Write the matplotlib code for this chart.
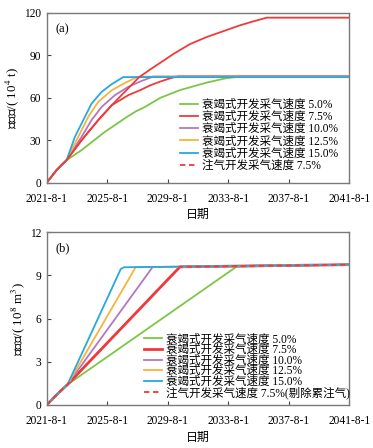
import matplotlib
matplotlib.use("Agg")
import matplotlib.pyplot as plt

plt.rcParams['font.family'] = ['Liberation Serif', 'Noto Sans CJK SC']
plt.rcParams['mathtext.fontset'] = 'stix'

# x in years since 2021-8-1
xticks = [0, 4, 8, 12, 16, 20]
xticklabels = ["2021-8-1", "2025-8-1", "2029-8-1", "2033-8-1", "2037-8-1", "2041-8-1"]

labels_a = ["衰竭式开发采气速度 5.0%", "衰竭式开发采气速度 7.5%", "衰竭式开发采气速度 10.0%",
            "衰竭式开发采气速度 12.5%", "衰竭式开发采气速度 15.0%", "注气开发采气速度 7.5%"]
labels_b = labels_a[:5] + ["注气开发采气速度 7.5%(剔除累注气)"]
colors = ["#7cc644", "#f03a3a", "#b277c4", "#f7b43a", "#25a9e0", "#f03a3a"]

# Panel (a): cumulative oil (10^4 t)
a_green_t = [0, 0.66, 1.32, 2.31, 3.85, 5.3, 5.9, 6.5, 7.5, 8.81, 10.57, 11.9, 12.8, 20]
a_green_v = [0, 9.0, 16.0, 23.1, 36.0, 46.5, 50.5, 53.6, 60.0, 65.5, 70.8, 74.0, 75.0, 75.0]
a_red_t = [0, 0.66, 1.32, 2.31, 3.41, 4.3, 5.39, 6.17, 6.83, 7.5, 8.15, 8.7, 20]
a_red_v = [0, 9.0, 16.0, 30.1, 44.3, 54.8, 61.9, 65.4, 68.8, 71.5, 73.8, 75.3, 75.3]
a_purple_t = [0, 0.66, 1.32, 2.31, 2.97, 3.63, 4.51, 5.39, 6.28, 7.05, 20]
a_purple_v = [0, 9.0, 16.0, 32.5, 44.3, 53.6, 61.9, 67.8, 72.0, 75.1, 75.1]
a_orange_t = [0, 0.66, 1.32, 2.09, 2.75, 3.41, 4.30, 5.18, 5.84, 6.1, 20]
a_orange_v = [0, 9.0, 16.0, 32.5, 46.6, 57.2, 65.4, 70.6, 74.0, 75.0, 75.0]
a_blue_t = [0, 0.66, 1.32, 1.87, 2.53, 2.97, 3.63, 4.30, 5.06, 20]
a_blue_v = [0, 9.0, 16.0, 32.5, 46.6, 56.0, 64.2, 69.7, 74.7, 74.7]
a_inj_t = [0, 0.66, 1.32, 2.31, 3.41, 4.3, 5.0, 5.6, 6.1, 6.83, 7.93, 8.37, 9.47, 10.57, 11.24, 12.78, 13.7, 14.54, 20]
a_inj_v = [0, 9.0, 16.0, 30.1, 44.3, 54.8, 62.5, 69.0, 74.5, 80.0, 87.8, 91.0, 98.0, 103.0, 105.5, 111.3, 114.2, 116.7, 116.7]

# Panel (b): cumulative gas (10^8 m^3)
b_green_t = [0, 0.75, 1.38, 12.56, 20]
b_green_v = [0, 0.8, 1.42, 9.62, 9.75]
b_red_t = [0, 0.75, 1.38, 8.81, 20]
b_red_v = [0, 0.8, 1.42, 9.60, 9.75]
b_purple_t = [0, 0.75, 1.38, 7.0, 20]
b_purple_v = [0, 0.8, 1.42, 9.58, 9.75]
b_orange_t = [0, 0.75, 1.38, 5.88, 20]
b_orange_v = [0, 0.8, 1.42, 9.57, 9.75]
b_blue_t = [0, 0.75, 1.38, 4.9, 5.11, 20]
b_blue_v = [0, 0.8, 1.42, 9.45, 9.57, 9.75]
b_inj_t = b_red_t
b_inj_v = b_red_v

fig = plt.figure(figsize=(3.73, 4.48), dpi=100)
axa = fig.add_axes([0.125, 0.592, 0.8115, 0.379])
axb = fig.add_axes([0.125, 0.096, 0.8115, 0.3855])

def style(ax, ymax, yticks, ylabel, tag):
    ax.set_xlim(0, 20)
    ax.set_ylim(0, ymax)
    ax.set_xticks(xticks)
    ax.set_xticklabels(xticklabels)
    ax.set_yticks(yticks)
    ax.tick_params(direction='in', length=3, width=0.8, labelsize=8.3, color='#444444')
    ax.tick_params(axis='x', pad=7.5)
    ax.tick_params(axis='y', pad=4)
    for s in ax.spines.values():
        s.set_color('#7a7a7a')
        s.set_linewidth(1.0)
    ax.set_ylabel(ylabel, fontsize=9.4, labelpad=2)
    ax.set_xlabel("日期", fontsize=8.6, labelpad=3)
    ax.text(0.03, 0.905, tag, transform=ax.transAxes, fontsize=9, va='center', ha='left')

lw = 1.3
axa.plot(a_green_t, a_green_v, color=colors[0], lw=lw, label=labels_a[0])
axa.plot(a_red_t, a_red_v, color=colors[1], lw=lw, label=labels_a[1])
axa.plot(a_purple_t, a_purple_v, color=colors[2], lw=lw, label=labels_a[2])
axa.plot(a_orange_t, a_orange_v, color=colors[3], lw=lw, label=labels_a[3])
axa.plot(a_blue_t, a_blue_v, color=colors[4], lw=lw, label=labels_a[4])
axa.plot(a_inj_t, a_inj_v, color=colors[5], lw=lw, ls='-')
axa.plot([], [], color=colors[5], lw=lw, ls=(0, (3, 2)), label=labels_a[5])
style(axa, 120, [0, 30, 60, 90, 120], "累产油/( 10$^4$ t)", "(a)")
axa.legend(loc='upper left', bbox_to_anchor=(0.44, 0.495), frameon=False, fontsize=8.3,
           handlelength=1.6, handletextpad=0.35, labelspacing=0.02, borderaxespad=0, borderpad=0)

axb.plot(b_green_t, b_green_v, color=colors[0], lw=lw, label=labels_b[0])
axb.plot(b_red_t, b_red_v, color=colors[1], lw=2.0, label=labels_b[1])
axb.plot(b_purple_t, b_purple_v, color=colors[2], lw=lw, label=labels_b[2])
axb.plot(b_orange_t, b_orange_v, color=colors[3], lw=lw, label=labels_b[3])
axb.plot(b_blue_t, b_blue_v, color=colors[4], lw=lw, label=labels_b[4])
axb.plot(b_inj_t, b_inj_v, color=colors[5], lw=1.3, ls=(0, (3, 2)), label=labels_b[5])
style(axb, 12, [0, 3, 6, 9, 12], "累产气/( 10$^8$ m$^3$)", "(b)")
axb.legend(loc='upper left', bbox_to_anchor=(0.3215, 0.415), frameon=False, fontsize=8.3,
           handlelength=1.6, handletextpad=0.35, labelspacing=-0.12, borderaxespad=0, borderpad=0)

fig.savefig("out.png", dpi=100)
